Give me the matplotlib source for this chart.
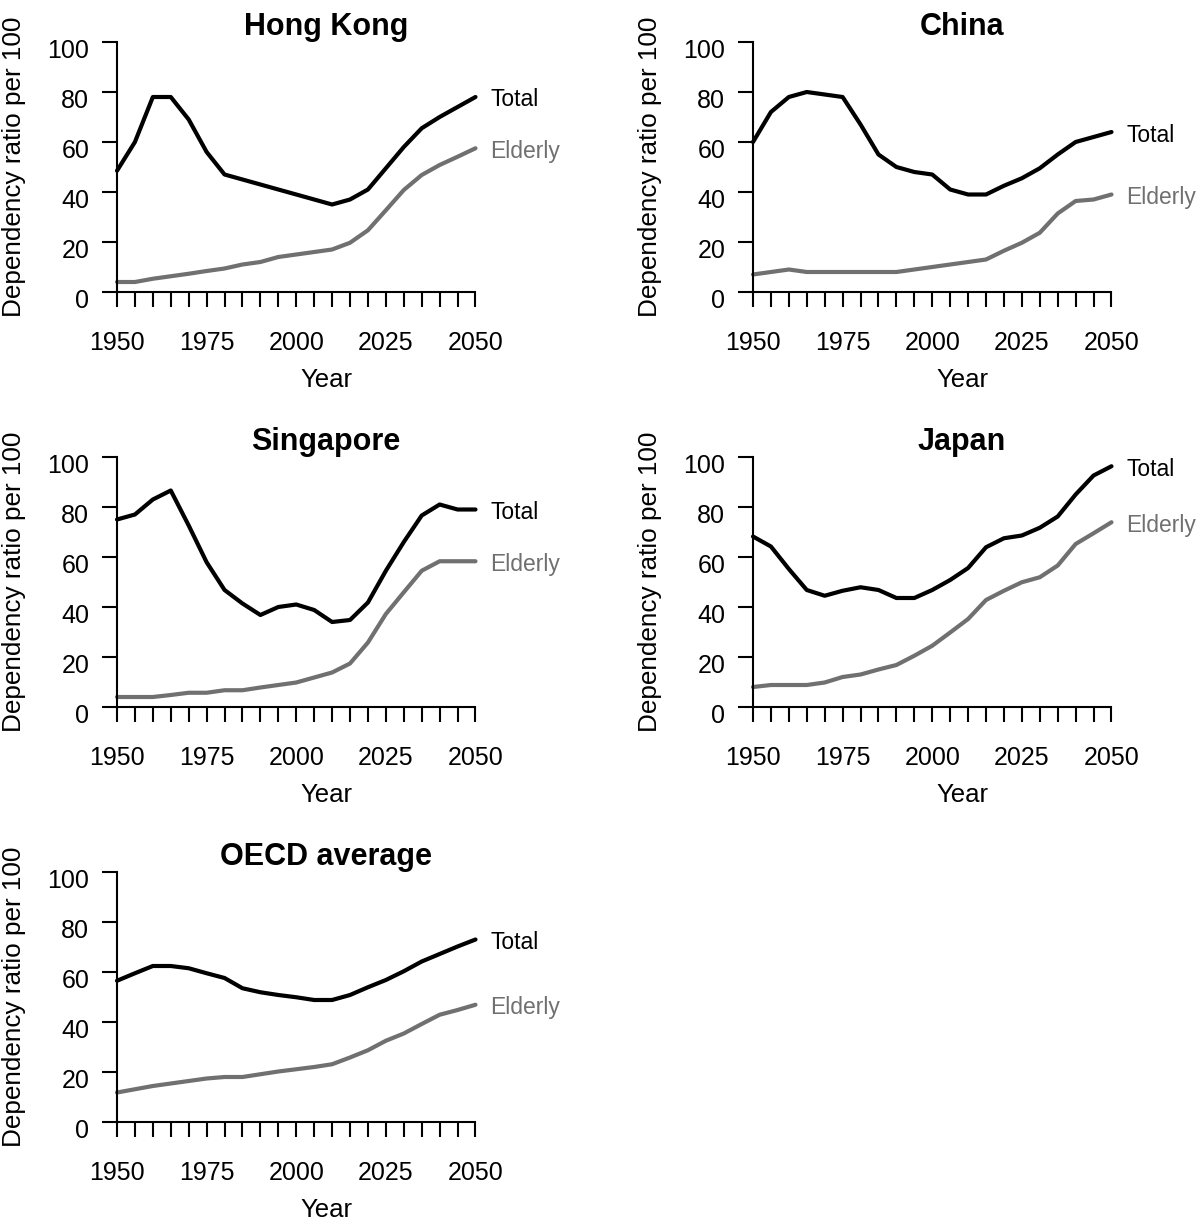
import matplotlib
matplotlib.use("Agg")
import matplotlib.pyplot as plt
import matplotlib.transforms as mtrans

plt.rcParams['font.family'] = ['Liberation Sans', 'DejaVu Sans']

years = list(range(1950, 2051, 5))

hk_total = [48.5, 60, 78, 78, 69, 56, 47, 45, 43, 41, 39, 37, 35, 37, 41, 49.5, 58, 65.5, 70, 74, 78]
hk_elderly = [4, 4, 5.3, 6.3, 7.3, 8.4, 9.4, 11, 12, 14, 15, 16, 17, 19.7, 24.7, 32.7, 40.8, 46.8, 50.8, 54.1, 57.5]

cn_total = [60, 72, 78, 80, 79, 78, 67, 55, 50, 48, 47, 41, 39, 39, 42.5, 45.5, 49.5, 55, 60, 62, 64]
cn_elderly = [7, 8, 9, 8, 8, 8, 8, 8, 8, 9, 10, 11, 12, 13, 16.5, 19.7, 23.7, 31.4, 36.4, 37, 39]

sg_total = [75, 77, 83, 86.6, 72.6, 57.9, 46.8, 41.4, 36.8, 40, 41, 38.8, 34, 34.8, 41.8, 54.5, 66, 76.6, 81, 79, 79]
sg_elderly = [4, 4, 4, 4.8, 5.7, 5.7, 6.7, 6.7, 7.8, 8.8, 9.8, 11.8, 13.8, 17.4, 25.8, 37.2, 45.9, 54.5, 58.3, 58.3, 58.3]

jp_total = [68.2, 64.2, 55.2, 46.8, 44.5, 46.5, 47.9, 46.8, 43.6, 43.6, 46.8, 50.8, 55.6, 63.9, 67.5, 68.6, 71.7, 76.2, 85, 92.6, 96.3]
jp_elderly = [8, 8.8, 8.8, 8.8, 9.8, 12, 13, 15, 16.8, 20.5, 24.5, 29.8, 35.2, 42.8, 46.5, 49.9, 51.9, 56.6, 65.2, 69.5, 73.9]

oecd_total = [56.5, 59.5, 62.4, 62.4, 61.5, 59.5, 57.6, 53.5, 51.9, 50.8, 49.9, 48.8, 48.8, 50.8, 53.9, 56.8, 60.3, 64.2, 67.2, 70.2, 73]
oecd_elderly = [11.8, 13.1, 14.4, 15.4, 16.4, 17.4, 18, 18, 19.1, 20.2, 21.1, 22, 23.1, 25.8, 28.7, 32.5, 35.4, 39.2, 42.9, 44.8, 46.9]

titles = ["Hong Kong", "China", "Singapore", "Japan", "OECD average"]
totals = [hk_total, cn_total, sg_total, jp_total, oecd_total]
elderlies = [hk_elderly, cn_elderly, sg_elderly, jp_elderly, oecd_elderly]

W, H = 1200, 1227
fig = plt.figure(figsize=(12, 12.27), dpi=100)

# pixel layout of each panel: left edge, top edge
lefts = [117, 753, 117, 753, 117]
tops = [42, 42, 457, 457, 872]
AW, AH = 418, 250

grey = "#707070"

for i in range(5):
    ax = fig.add_axes([lefts[i] / W, 1 - (tops[i] + AH) / H, AW / W, AH / H])
    ax.plot(years, totals[i], color="black", lw=3, clip_on=False,
            solid_capstyle="round", solid_joinstyle="round")
    ax.plot(years, elderlies[i], color=grey, lw=3, clip_on=False,
            solid_capstyle="round", solid_joinstyle="round")
    ax.set_xlim(1950, 2066.6)
    ax.set_ylim(0, 100)
    for s in ["top", "right"]:
        ax.spines[s].set_visible(False)
    ax.spines["left"].set_bounds(0, 100)
    ax.spines["bottom"].set_bounds(1950, 2050)
    ax.spines["left"].set_linewidth(1.5)
    ax.spines["bottom"].set_linewidth(1.5)
    ax.set_xticks(years)
    ax.set_xticklabels([str(y) if y % 25 == 0 else "" for y in years])
    ax.set_yticks(range(0, 101, 20))
    ax.tick_params(axis="both", direction="out", length=11, width=1.5, labelsize=18)
    ax.tick_params(axis="x", pad=17)
    ax.tick_params(axis="y", pad=9)
    off = mtrans.ScaledTranslation(0, -5 / 72, fig.dpi_scale_trans)
    for lab in ax.get_yticklabels():
        lab.set_transform(lab.get_transform() + off)

    ax.text(0.5, 1 + 7 / AH, titles[i], transform=ax.transAxes, ha="center",
            va="baseline", fontsize=22, fontweight="bold")
    ax.text(0.5, -88 / AH, "Year", transform=ax.transAxes, ha="center",
            va="center", fontsize=18.5)
    ax.text(-103 / AW, 0.5, "Dependency ratio per 100", transform=ax.transAxes,
            rotation=90, ha="center", va="center", fontsize=18.8)

    ax.annotate("Total", xy=(2050, totals[i][-1]), xytext=(15, -3),
                textcoords="offset pixels", ha="left", va="center",
                fontsize=16.5, color="black", annotation_clip=False)
    ax.annotate("Elderly", xy=(2050, elderlies[i][-1]), xytext=(15, -3),
                textcoords="offset pixels", ha="left", va="center",
                fontsize=16.5, color=grey, annotation_clip=False)

fig.savefig("out.png", dpi=100)
